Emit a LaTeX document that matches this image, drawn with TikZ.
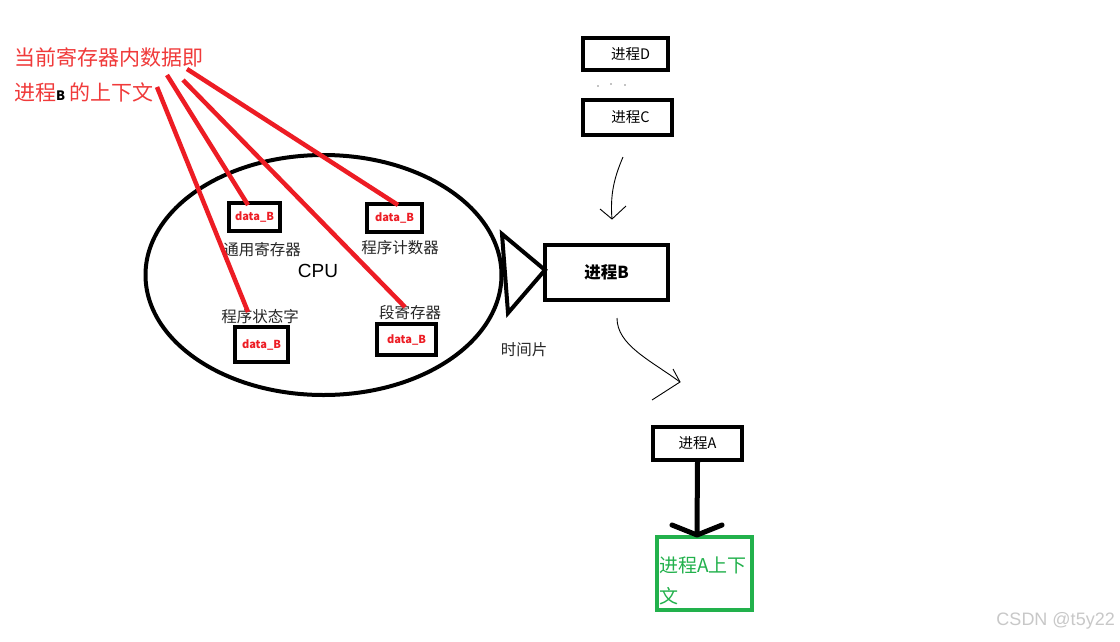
\documentclass[tikz,border=0pt]{standalone}
\usepackage{fontspec}
\setmainfont{Noto Sans CJK SC}
\newfontfamily\latinsans{Liberation Sans}
\definecolor{pred}{HTML}{ED1C24}
\definecolor{tred}{HTML}{F03A3A}
\definecolor{pgreen}{HTML}{22B14C}
\definecolor{wgray}{HTML}{C8C8C8}
\begin{document}
\begin{tikzpicture}[x=1pt,y=-1pt,
  thickbox/.style={draw=black,line width=4pt,inner sep=0pt,minimum width=#1},
  reg/.style={draw=black,line width=4pt,inner sep=0pt,text=pred,font=\fontsize{11}{13}\selectfont\bfseries},
  lbl/.style={inner sep=0pt,font=\fontsize{15.5}{18}\selectfont,text=black!85},
  redline/.style={draw=pred,line width=4.5pt},
  thin/.style={draw=black,line width=0.9pt}]
\useasboundingbox (0,0) rectangle (1120,641);
\fill[white] (0,0) rectangle (1120,641);

% red caption
\node[anchor=west,inner sep=0pt,text=tred,font=\fontsize{21}{24}\selectfont] (cap1) at (14,57) {当前寄存器内数据即};
\node[anchor=west,inner sep=0pt,text=tred,font=\fontsize{21}{24}\selectfont] (cap2) at (14,92) {进程{\fontsize{13}{14}\selectfont\bfseries\color{black}B} 的上下文};

% CPU ellipse
\draw[line width=4pt] (323.5,275) ellipse [x radius=178, y radius=120];
\node (cpu) at (318,271) [inner sep=0pt,font=\latinsans\fontsize{19}{22}\selectfont] {CPU};

% registers
\node[reg,minimum width=51pt,minimum height=28pt] (gr) at (254.5,217) {data\_B};
\node[lbl] (grl) at (262,250) {通用寄存器};
\node[reg,minimum width=55pt,minimum height=28pt] (pc) at (394.5,218) {data\_B};
\node[lbl] (pcl) at (400,248) {程序计数器};
\node[lbl] (psl) at (260,317) {程序状态字};
\node[reg,minimum width=53pt,minimum height=35pt] (ps) at (261.5,344.5) {data\_B};
\node[lbl] (srl) at (410,313) {段寄存器};
\node[reg,minimum width=59pt,minimum height=31pt] (sr) at (406.5,339.5) {data\_B};

% red lines
\coordinate (s1) at (167,75);
\coordinate (s2) at (183,80);
\coordinate (s3) at (187,69);
\coordinate (s4) at (157,87);
\coordinate (e1) at (248,205);
\coordinate (e2) at (405,307);
\coordinate (e3) at (398,205);
\coordinate (e4) at (248,312);
\draw[redline] (s1) -- (e1);
\draw[redline] (s2) -- (e2);
\draw[redline] (s3) -- (e3);
\draw[redline] (s4) -- (e4);

% triangle
\draw[line width=4pt,line join=miter] (502,234) -- (545,270) -- (508,313) -- cycle;

% processes
\node[thickbox=85pt,minimum height=32pt,font=\fontsize{14.5}{16}\selectfont] (pd) at (625.5,54) {\hspace*{10pt}进程D};
\node[thickbox=89pt,minimum height=35pt,font=\fontsize{14.5}{16}\selectfont] (pc2) at (627.5,117.5) {\hspace*{6pt}进程C};
\node[thickbox=123pt,minimum height=55pt,font=\fontsize{16.5}{18}\selectfont\bfseries] (pb) at (606.5,272.5) {进程B};
\node[thickbox=89pt,minimum height=33pt,font=\fontsize{14.5}{16}\selectfont] (pa) at (697.5,443.5) {进程A};
\node[draw=pgreen,line width=4pt,minimum width=95pt,minimum height=73pt,inner sep=0pt] (ctx) at (704.5,573.5) {};
\node[anchor=north west,inner sep=0pt,text=pgreen,font=\fontsize{19}{31}\selectfont,align=left] (ctxt) at (659,557) {进程A上下\\文};

% dots
\fill (598,86) circle (0.7pt);
\fill (611,84) circle (0.7pt);
\fill (625,85) circle (0.7pt);

% time slice label
\node[lbl] (ts) at (524,350) {时间片};

% hand-drawn arrow C -> B
\coordinate (c1) at (623,157);
\coordinate (c2) at (612,219);
\draw[thin] (c1) .. controls (614,178) and (610,195) .. (c2);
\draw[thin] (600,209) -- (c2) -- (626,206);

% hand-drawn arrow B -> A
\coordinate (b1) at (617,318);
\coordinate (b2) at (680,382);
\draw[thin] (b1) .. controls (617,345) and (650,360) .. (b2);
\draw[thin] (673,369) -- (b2) -- (652,400);

% thick arrow A -> context
\draw[line width=5pt] (pa.south) -- (697,532);
\draw[line width=5pt,line cap=round,line join=round] (672,525) -- (697,535) -- (722,525);

% watermark
\node[anchor=east,inner sep=0pt,text=wgray,font=\latinsans\fontsize{18}{20}\selectfont] (wm) at (1115,621) {CSDN @t5y22};
\end{tikzpicture}
\end{document}
